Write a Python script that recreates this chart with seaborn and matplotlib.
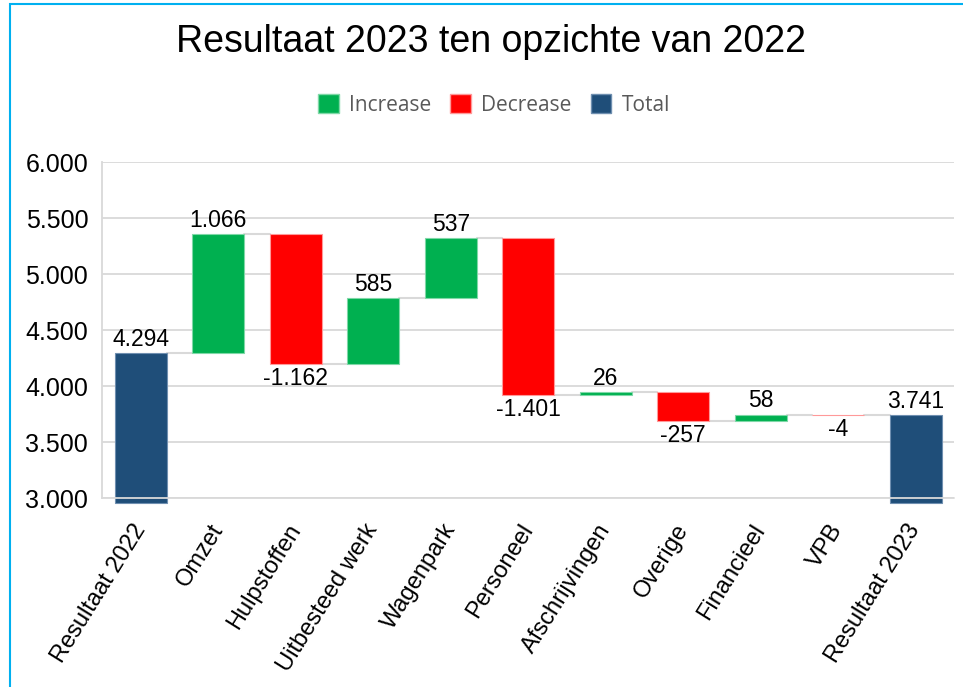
import numpy as np
import matplotlib
matplotlib.use("Agg")
import matplotlib.pyplot as plt
import seaborn as sns
from matplotlib.patches import Patch, Rectangle

sns.set_style("white")
plt.rcParams["font.family"] = ["Liberation Sans", "DejaVu Sans"]
plt.rcParams["text.color"] = "black"
plt.rcParams["xtick.color"] = "black"
plt.rcParams["ytick.color"] = "black"

categories = ["Resultaat 2022", "Omzet", "Hulpstoffen", "Uitbesteed werk", "Wagenpark",
              "Personeel", "Afschrijvingen", "Overige", "Financieel", "VPB", "Resultaat 2023"]
values = [4294, 1066, -1162, 585, 537, -1401, 26, -257, 58, -4, 3741]
kinds = ["total", "delta", "delta", "delta", "delta", "delta", "delta", "delta", "delta", "delta", "total"]
labels = ["4.294", "1.066", "-1.162", "585", "537", "-1.401", "26", "-257", "58", "-4", "3.741"]

colors = {"inc": "#00B050", "dec": "#FF0000", "total": "#1F4E79"}
edges = {"inc": "#7FD8A7", "dec": "#FF9999", "total": "#6F8FB0"}

fig = plt.figure(figsize=(9.63, 6.87), dpi=100)
ax = fig.add_axes([0.106, 0.275, 0.885, 0.489])

ymin = 3000
x = np.arange(len(categories))
w = 0.67
running = 0
levels = []
for i, (v, k) in enumerate(zip(values, kinds)):
    if k == "total":
        lo, hi = ymin - 40, v
        running = v
        key = "total"
    else:
        lo, hi = sorted([running, running + v])
        running += v
        key = "inc" if v >= 0 else "dec"
    ax.bar(x[i], hi - lo, bottom=lo, width=w, color=colors[key],
           edgecolor=edges[key], linewidth=0.8, zorder=3, clip_on=False)
    levels.append(running)
    if key == "dec":
        ax.text(x[i], lo - 25, labels[i], ha="center", va="top", fontsize=16.5, zorder=5)
    else:
        ax.text(x[i], hi + 20, labels[i], ha="center", va="bottom", fontsize=16.5, zorder=5)

# connector lines
for i in range(len(values) - 1):
    ax.plot([x[i] + w / 2, x[i + 1] - w / 2], [levels[i], levels[i]],
            color="#D9D9D9", lw=1.5, zorder=2)

ax.set_xlim(-0.5, len(categories) - 0.5)
ax.set_ylim(ymin, 6000)
yt = np.arange(3000, 6001, 500)
ax.set_yticks(yt)
ax.set_yticklabels([f"{t // 1000}.{t % 1000:03d}" for t in yt], fontsize=18)
ax.set_xticks(x)
ax.set_xticklabels(categories, fontsize=17, rotation=58, ha="right", va="center",
                   rotation_mode="anchor")
ax.tick_params(axis="y", length=0, pad=10)
ax.tick_params(axis="x", length=0, pad=20)
ax.yaxis.grid(True, color="#D9D9D9", lw=1.3, zorder=0)
ax.set_axisbelow(True)
for s in ["top", "right", "bottom"]:
    ax.spines[s].set_visible(False)
ax.spines["left"].set_color("#D9D9D9")
ax.spines["left"].set_linewidth(1.3)
ax.axhline(ymin, color="#D9D9D9", lw=1.3, zorder=4, clip_on=False)

fig.suptitle("Resultaat 2023 ten opzichte van 2022", x=0.51, y=0.939, va="center",
             fontsize=27, color="black")

handles = [Patch(facecolor=colors["inc"], edgecolor=edges["inc"], label="Increase"),
           Patch(facecolor=colors["dec"], edgecolor=edges["dec"], label="Decrease"),
           Patch(facecolor=colors["total"], edgecolor=edges["total"], label="Total")]
leg = fig.legend(handles=handles, loc="center", bbox_to_anchor=(0.513, 0.847), ncol=3,
                 frameon=False, handlelength=1.0, handleheight=1.0,
                 handletextpad=0.5, columnspacing=0.9, prop={"family": "Open Sans", "size": 15})
for t in leg.get_texts():
    t.set_color("#595959")

fig.patches.append(Rectangle((10 / 963, -0.1), 1.2, 1 - 4 / 687 + 0.1, transform=fig.transFigure,
                             fill=False, edgecolor="#00B0F0", lw=1.5, zorder=10))

fig.savefig("out.png", dpi=100)
